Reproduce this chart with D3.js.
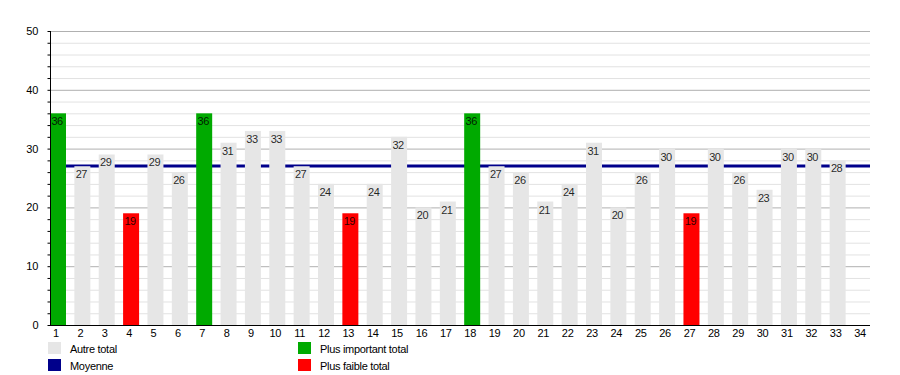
<!DOCTYPE html>
<html><head><meta charset="utf-8">
<script src="https://cdn.jsdelivr.net/npm/d3@7"></script>
<style>body{margin:0;background:#fff}svg{display:block;font-family:"Liberation Sans",Arial,sans-serif}</style>
</head><body><svg id="c" width="900" height="375"></svg>
<script>
const categories = d3.range(1, 35).map(String);
const values = [36,27,29,19,29,26,36,31,33,33,27,24,19,24,32,20,21,36,27,26,21,24,31,20,26,30,19,30,26,23,30,30,28,null];
const yTicks = [0,10,20,30,40,50];
const legendItems = [
  {label:"Autre total", color:"#e6e6e6"},
  {label:"Moyenne", color:"#00008b"},
  {label:"Plus important total", color:"#00aa00"},
  {label:"Plus faible total", color:"#ff0000"}
];

const svg = d3.select("#c");
const x0 = 50, xEnd = 870, yTop = 31, yBot = 325;
const step = (xEnd - 16 - x0) / 33;
const x = d3.scaleBand().domain(categories).range([x0, xEnd]).paddingInner(1 - 16/step).paddingOuter(0).align(0);
const y = d3.scaleLinear().domain([0,50]).range([yBot, yTop]);

const valid = values.filter(v => v != null);
const maxV = d3.max(valid), minV = d3.min(valid), mean = d3.mean(valid);
const colorOf = v => v === maxV ? "#00aa00" : v === minV ? "#ff0000" : "#e6e6e6";

// minor grid
svg.append("g").selectAll("line").data(d3.range(2, 50, 2).filter(v => v % 10 !== 0)).join("line")
  .attr("x1", x0).attr("x2", xEnd).attr("y1", d => y(d)+0.5).attr("y2", d => y(d)+0.5)
  .attr("stroke", "#e2e2e2").attr("stroke-width", 1);
// major grid
svg.append("g").selectAll("line").data(yTicks.slice(1)).join("line")
  .attr("x1", x0).attr("x2", xEnd).attr("y1", d => y(d)+0.5).attr("y2", d => y(d)+0.5)
  .attr("stroke", "#b0b0b0").attr("stroke-width", 1);

// mean line
svg.append("line").attr("x1", x0).attr("x2", xEnd).attr("y1", y(mean)).attr("y2", y(mean))
  .attr("stroke", "#00008b").attr("stroke-width", 3);

// bars
const data = categories.map((c,i) => ({c, v: values[i]})).filter(d => d.v != null);
svg.append("g").selectAll("rect").data(data).join("rect")
  .attr("x", d => x(d.c)).attr("width", x.bandwidth())
  .attr("y", d => y(d.v)).attr("height", d => yBot - y(d.v))
  .attr("fill", d => colorOf(d.v));

// bar labels
svg.append("g").selectAll("text").data(data).join("text")
  .attr("x", d => x(d.c) + x.bandwidth()/2 - 1).attr("y", d => y(d.v) + 12)
  .attr("text-anchor", "middle").attr("font-size", 11).attr("fill", "#000").attr("fill-opacity", 0.85)
  .attr("letter-spacing", -0.5)
  .text(d => d.v);

// y axis
const yAxis = d3.axisLeft(y).tickValues(d3.range(0, 51, 2)).tickSize(3).tickFormat(d => d % 10 === 0 ? d : "");
const gy = svg.append("g").attr("transform", `translate(${x0+0.5},0)`).call(yAxis);
gy.select(".domain").attr("d", `M0,${yTop}V${yBot}`).attr("stroke", "#000");
gy.selectAll(".tick line").attr("stroke", "#000");
gy.selectAll(".tick text").attr("font-size", 11).attr("font-family", "Liberation Sans, Arial, sans-serif").attr("fill", "#000").attr("x", -12);

// x axis line
svg.append("line").attr("x1", x0).attr("x2", xEnd).attr("y1", yBot+0.5).attr("y2", yBot+0.5).attr("stroke", "#000");
// x labels
svg.append("g").selectAll("text").data(categories).join("text")
  .attr("x", d => x(d) + x.bandwidth()/2 - 2).attr("y", yBot + 12)
  .attr("text-anchor", "middle").attr("font-size", 11).attr("fill", "#000").attr("letter-spacing", -0.3)
  .text(d => d);

// legend
const lpos = [[48,342],[48,359],[298,342],[298,359]];
const lg = svg.append("g").selectAll("g").data(legendItems).join("g")
  .attr("transform", (d,i) => `translate(${lpos[i][0]},${lpos[i][1]})`);
lg.append("rect").attr("width", 13).attr("height", 12).attr("fill", d => d.color);
lg.append("text").attr("x", 22).attr("y", 11).attr("font-size", 11).attr("fill", "#000").attr("letter-spacing", -0.3).text(d => d.label);
</script></body></html>
